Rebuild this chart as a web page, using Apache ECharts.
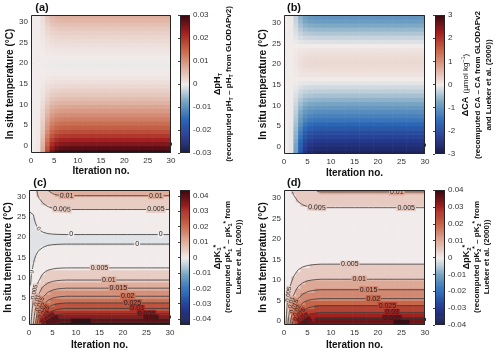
<!DOCTYPE html>
<html>
<head>
<meta charset="utf-8">
<script src="https://cdn.jsdelivr.net/npm/echarts@6/dist/echarts.min.js"></script>
<style>
  html, body { margin: 0; padding: 0; background: #fff; }
  #chart { width: 500px; height: 352px; }
</style>
</head>
<body>
<div id="chart"></div>
<script>
// temperature rows (row centres, °C) and iteration numbers
const tempRows = [-1.5, -0.5, 0.5, 1.5, 2.5, 3.5, 4.5, 5.5, 6.5, 7.5, 8.5, 9.5, 10.5, 11.5, 12.5, 13.5, 14.5,
  15.5, 16.5, 17.5, 18.5, 19.5, 20.5, 21.5, 22.5, 23.5, 24.5, 25.5, 26.5, 27.5, 28.5, 29.5, 30.5, 31.5]
const iterations = [0, 1, 2, 3, 4, 5, 6, 7, 8, 9, 10, 11, 12, 13, 14, 15, 16, 17, 18, 19, 20,
  21, 22, 23, 24, 25, 26, 27, 28, 29, 30]

// (a) delta pH_T once converged, per temperature row
const dpHConv = [0.031, 0.028, 0.025, 0.0225, 0.02, 0.0178, 0.0158, 0.014, 0.0123, 0.0107, 0.0092, 0.0078,
  0.0064, 0.0052, 0.0041, 0.0031, 0.0022, 0.0014, 0.0008, 0.0003, -0.0001, -0.0003, -0.0002, 0.0001,
  0.0005, 0.0009, 0.0014, 0.0019, 0.0025, 0.0032, 0.004, 0.005, 0.006, 0.0068]
// share of the converged value reached at each iteration
const dpHRamp = [0, 0, 0.02, 0.25, 0.6, 0.84, 0.94, 0.98, 0.99, 1, 1, 1, 1, 1, 1, 1, 1, 1, 1, 1, 1,
  1, 1, 1, 1, 1, 1, 1, 1, 1, 1]

// (b) delta CA (umol/kg)
const dCAConv = [-2.8, -2.6, -2.45, -2.3, -2.1, -1.95, -1.75, -1.55, -1.35, -1.2, -1.05, -0.9, -0.75, -0.6,
  -0.45, -0.32, -0.2, -0.08, 0.02, 0.1, 0.15, 0.2, 0.22, 0.2, 0.15, 0.1, 0.0, -0.12, -0.25, -0.4,
  -0.55, -0.7, -0.85, -0.95]
const dCARamp = [0, 0, 0.03, 0.3, 0.65, 0.86, 0.95, 0.98, 0.99, 1, 1, 1, 1, 1, 1, 1, 1, 1, 1, 1, 1,
  1, 1, 1, 1, 1, 1, 1, 1, 1, 1]

// (c) delta pK1*: value at iteration 0, converged value, approach
const dpK1Start = [0.0005, 0.0005, 0.0005, 0.0005, 0.0005, 0.0005, 0.0005, 0.0005, 0.0005, 0.0002,
  -0.001, -0.001, -0.001, -0.001, -0.001, -0.001, -0.001, -0.001, -0.001, -0.001, -0.001, -0.001,
  -0.001, -0.001, -0.001, -0.001, -0.001, -0.001, 0.0002, 0.0005, 0.0005, 0.0005, 0.0005, 0.0005]
const dpK1Conv = [0.048, 0.043, 0.038, 0.0335, 0.0299, 0.026, 0.023, 0.0199, 0.0172, 0.0149, 0.0123,
  0.0099, 0.0083, 0.0066, 0.0049, 0.0038, 0.0028, 0.0019, 0.0011, 0.0004, -0.0001, -0.0004, -0.0001,
  0.0006, 0.0013, 0.0021, 0.003, 0.0038, 0.0047, 0.0057, 0.007, 0.0088, 0.0105, 0.0115]
const dpK1Ramp = [0, 0.22, 0.5, 0.72, 0.86, 0.93, 0.97, 0.99, 1, 1, 1, 1, 1, 1, 1, 1, 1, 1, 1, 1, 1,
  1, 1, 1, 1, 1, 1, 1, 1, 1, 1]

// (d) delta pK2*
const dpK2Conv = [0.044, 0.0393, 0.0354, 0.0318, 0.0286, 0.0256, 0.0227, 0.0198, 0.0173, 0.0152, 0.0131,
  0.0111, 0.0094, 0.0079, 0.0066, 0.0053, 0.0044, 0.0037, 0.0031, 0.0027, 0.0024, 0.0023, 0.0023,
  0.0025, 0.0028, 0.0032, 0.0036, 0.0041, 0.0046, 0.0049, 0.006, 0.0072, 0.0086, 0.0101]
const dpK2Ramp = [0, 0.3, 0.55, 0.75, 0.87, 0.94, 0.97, 0.99, 1, 1, 1, 1, 1, 1, 1, 1, 1, 1, 1, 1, 1,
  1, 1, 1, 1, 1, 1, 1, 1, 1, 1]

// ticks
const tempTicks = [0, 5, 10, 15, 20, 25, 30]
const cbTicksPH = [-0.03, -0.02, -0.01, 0, 0.01, 0.02, 0.03]
const cbTicksCA = [-3, -2, -1, 0, 1, 2, 3]
const cbTicksPK = [-0.04, -0.03, -0.02, -0.01, 0, 0.01, 0.02, 0.03, 0.04]

// contour levels and where their labels sit (level, iteration, temperature)
const levelsC = [0, 0.005, 0.01, 0.015, 0.02, 0.025, 0.03, 0.035, 0.04, 0.045]
const levelsD = [0.005, 0.01, 0.015, 0.02, 0.025, 0.03, 0.035, 0.04]
const labelHintsC = [[0.01, 8.4, 30.3], [0.01, 27, 30.3], [0.005, 7.3, 26.9], [0.005, 27, 26.9],
  [0, 9.2, 20.6], [0, 28, 20.6], [0, 23.5, 18.3], [0, 0.6, 20.7], [0, 1.1, 11.5],
  [0.005, 15.2, 12.5], [0.01, 17, 9.5], [0.015, 19, 7.4], [0.02, 21, 5.6], [0.025, 22.5, 3.9],
  [0.03, 23, 2.5], [0.035, 25, 1.2], [0.04, 26, 0.1], [0.045, 11, -0.9],
  [0.005, 1.3, 6], [0.01, 1.8, 4.5], [0.015, 2.2, 3.5], [0.02, 2.7, 2.5], [0.025, 3.2, 1.6],
  [0.03, 3.7, 0.8], [0.035, 4.2, 0], [0.04, 4.9, -0.6]]
const labelHintsD = [[0.01, 23.8, 31.4], [0.005, 7.3, 27.6], [0.005, 26.3, 27.6], [0.005, 14, 13.7],
  [0.01, 15.9, 10.1], [0.015, 18.4, 7.6], [0.02, 19.5, 5.4], [0.025, 21.7, 3.7], [0.03, 22.7, 2.1],
  [0.035, 23.4, 0.6], [0.04, 24.8, -0.7],
  [0.005, 0.9, 6.4], [0.01, 1.4, 5], [0.015, 1.9, 4], [0.02, 2.4, 3], [0.025, 3, 2], [0.03, 3.6, 1],
  [0.035, 4.5, 0]]

const FONT = 'Liberation Sans'

// diverging colour map (dark blue - white - dark red)
const cmapStops = [[0, [24, 28, 67]], [0.125, [38, 57, 143]], [0.25, [43, 105, 184]], [0.375, [118, 164, 194]],
  [0.5, [241, 236, 235]], [0.625, [221, 168, 150]], [0.75, [199, 102, 73]], [0.875, [163, 32, 31]],
  [1, [60, 9, 18]]]
function cmap (v, lo, hi) {
  let t = (v - lo) / (hi - lo)
  t = Math.max(0, Math.min(1, t))
  for (let i = 1; i < cmapStops.length; i++) {
    if (t <= cmapStops[i][0]) {
      const [t0, c0] = cmapStops[i - 1]
      const [t1, c1] = cmapStops[i]
      const f = (t - t0) / (t1 - t0)
      return 'rgb(' + c0.map((c, j) => Math.round(c + (c1[j] - c) * f)).join(',') + ')'
    }
  }
  return 'rgb(60,9,18)'
}

// marching squares -> polylines in data coordinates
function contour (grid, xs, ys, level) {
  const pts = {}
  const adj = {}
  const link = (a, b) => {
    (adj[a] = adj[a] || []).push(b);
    (adj[b] = adj[b] || []).push(a)
  }
  const edge = (id, xa, ya, va, xb, yb, vb) => {
    if (!pts[id]) {
      const t = (level - va) / (vb - va)
      pts[id] = [xa + (xb - xa) * t, ya + (yb - ya) * t]
    }
    return id
  }
  for (let r = 0; r < ys.length - 1; r++) {
    for (let c = 0; c < xs.length - 1; c++) {
      const v0 = grid[r][c], v1 = grid[r][c + 1], v2 = grid[r + 1][c + 1], v3 = grid[r + 1][c]
      const code = (v0 >= level ? 1 : 0) | (v1 >= level ? 2 : 0) | (v2 >= level ? 4 : 0) | (v3 >= level ? 8 : 0)
      if (code === 0 || code === 15) continue
      const x0 = xs[c], x1 = xs[c + 1], y0 = ys[r], y1 = ys[r + 1]
      const E0 = () => edge('h' + r + '_' + c, x0, y0, v0, x1, y0, v1)
      const E1 = () => edge('v' + r + '_' + (c + 1), x1, y0, v1, x1, y1, v2)
      const E2 = () => edge('h' + (r + 1) + '_' + c, x0, y1, v3, x1, y1, v2)
      const E3 = () => edge('v' + r + '_' + c, x0, y0, v0, x0, y1, v3)
      if (code === 5 || code === 10) {
        const centre = (v0 + v1 + v2 + v3) / 4 >= level
        if ((code === 5) === centre) { link(E0(), E1()); link(E2(), E3()) } else { link(E0(), E3()); link(E1(), E2()) }
        continue
      }
      const b = [code & 1, (code >> 1) & 1, (code >> 2) & 1, (code >> 3) & 1]
      const cross = []
      if (b[0] !== b[1]) cross.push(E0())
      if (b[1] !== b[2]) cross.push(E1())
      if (b[2] !== b[3]) cross.push(E2())
      if (b[3] !== b[0]) cross.push(E3())
      link(cross[0], cross[1])
    }
  }
  const used = new Set()
  const key = (a, b) => a < b ? a + '|' + b : b + '|' + a
  const walk = s => {
    const line = [pts[s]]
    let cur = s
    for (;;) {
      const nx = adj[cur].find(n => !used.has(key(cur, n)))
      if (nx === undefined) break
      used.add(key(cur, nx))
      line.push(pts[nx])
      cur = nx
    }
    return line
  }
  const lines = []
  Object.keys(adj).forEach(id => {
    if (adj[id].length === 1 && !used.has(key(id, adj[id][0]))) lines.push(walk(id))
  })
  Object.keys(adj).forEach(id => {
    if (adj[id].some(n => !used.has(key(id, n)))) lines.push(walk(id))
  })
  return lines
}

const panels = [
  {
    letter: '(a)', letterPos: [42, 8], conv: dpHConv, ramp: dpHRamp, start: null, mode: 'pcolor',
    range: [-0.03, 0.03], cbTicks: cbTicksPH, yRange: [-1.8, 31.7],
    grid: { left: 31, top: 15, width: 140, height: 138 }, cb: { left: 180, top: 15, width: 10, height: 138 },
    yNameGap: 10, xNameGap: 13,
    title: { x: 223, y: 84, lh: 11.5, text: '{b|ΔpH}{bs|T}\n{r|(recomputed pH}{rs|T}{r| – pH}{rs|T}{r| from GLODAPv2)}' }
  },
  {
    letter: '(b)', letterPos: [294, 8], conv: dCAConv, ramp: dCARamp, start: null, mode: 'pcolor',
    range: [-3, 3], cbTicks: cbTicksCA, yRange: [-1.8, 31.9],
    grid: { left: 284, top: 15, width: 141, height: 139 }, cb: { left: 435, top: 15, width: 10, height: 139 },
    yNameGap: 14, xNameGap: 14,
    title: { x: 477, y: 85, lh: 11, text: '{b|ΔCA} {u|(µmol kg}{sp|−1}{u|)}\n{r|(recomputed CA – CA from GLODAPv2}\n{r|and Lueker et al. (2000))}' }
  },
  {
    letter: '(c)', letterPos: [40, 183], conv: dpK1Conv, ramp: dpK1Ramp, start: dpK1Start, mode: 'contour',
    levels: levelsC, hints: labelHintsC,
    range: [-0.0438, 0.0438], cbTicks: cbTicksPK, yRange: [-1.6, 31.6],
    grid: { left: 29, top: 190, width: 141, height: 135 }, cb: { left: 180, top: 190, width: 10, height: 135 },
    yNameGap: 15, xNameGap: 15,
    title: { x: 228, y: 257, lh: 10.5, text: '{b|ΔpK}{bs|1}{bp|*}\n{r|(recomputed pK}{rs|1}{rp|*}{r| – pK}{rs|1}{rp|*}{r| from}\n{r|Lueker et al. (2000))}' }
  },
  {
    letter: '(d)', letterPos: [294, 183], conv: dpK2Conv, ramp: dpK2Ramp, start: null, mode: 'contour',
    levels: levelsD, hints: labelHintsD,
    range: [-0.04, 0.04], cbTicks: cbTicksPK, yRange: [-1.0, 31.9],
    grid: { left: 284, top: 190, width: 141, height: 135 }, cb: { left: 435, top: 190, width: 10, height: 135 },
    yNameGap: 15, xNameGap: 15,
    title: { x: 477, y: 257, lh: 10, text: '{b|ΔpK}{bs|2}{bp|*}\n{r|(recomputed pK}{rs|2}{rp|*}{r| – pK}{rs|2}{rp|*}{r| from}\n{r|Lueker et al. (2000))}' }
  }
]

const BAND = 0.005
const fmtLevel = v => String(+v.toFixed(4))
// filled-contour band colour: positive bands take their lower level, negative bands sit near zero
const bandValue = v => v >= 0 ? Math.floor(v / BAND) * BAND : (Math.floor(v / BAND) + 0.7) * BAND

const grids = []
const xAxes = []
const yAxes = []
const series = []
const graphics = []

const frameSeries = (xi) => ({
  type: 'custom', xAxisIndex: xi, yAxisIndex: xi, z: 10, silent: true, clip: false,
  data: [[0, 0]],
  renderItem: (params) => {
    const cs = params.coordSys
    return {
      type: 'rect',
      shape: { x: Math.round(cs.x) + 0.5, y: Math.round(cs.y) + 0.5, width: Math.round(cs.width) - 1, height: Math.round(cs.height) - 1 },
      style: { fill: 'none', stroke: '#262626', lineWidth: 1 }
    }
  }
})

const rectItem = (colorFn) => (params, api) => {
  const a = api.coord([api.value(0), api.value(3)])
  const b = api.coord([api.value(1), api.value(2)])
  return {
    type: 'rect',
    shape: { x: a[0], y: a[1], width: b[0] - a[0] + 0.6, height: b[1] - a[1] + 0.6 },
    style: { fill: colorFn(api.value(4)) }
  }
}

panels.forEach((p, idx) => {
  const gi = idx * 2
  const ci = gi + 1
  const [lo, hi] = p.range
  grids.push(p.grid, p.cb)

  xAxes.push({
    gridIndex: gi, type: 'value', min: 0, max: 30, interval: 5,
    axisLine: { show: false }, splitLine: { show: false },
    axisTick: { inside: true, length: 3, lineStyle: { color: '#333' } },
    axisLabel: { fontSize: 8, color: '#333', margin: 4, fontFamily: FONT },
    name: 'Iteration no.', nameLocation: 'middle', nameGap: p.xNameGap,
    nameTextStyle: { fontSize: 10, fontWeight: 'bold', color: '#111', fontFamily: FONT }
  })
  yAxes.push({
    gridIndex: gi, type: 'value', min: p.yRange[0], max: p.yRange[1],
    axisLine: { show: false }, splitLine: { show: false },
    axisTick: { inside: true, length: 3, customValues: tempTicks, lineStyle: { color: '#333' } },
    axisLabel: { fontSize: 8, color: '#333', margin: 3, customValues: tempTicks, fontFamily: FONT },
    name: 'In situ temperature (°C)', nameLocation: 'middle', nameGap: p.yNameGap,
    nameTextStyle: { fontSize: 10, fontWeight: 'bold', color: '#111', fontFamily: FONT }
  })
  xAxes.push({ gridIndex: ci, type: 'value', min: 0, max: 1, show: false })
  yAxes.push({
    gridIndex: ci, type: 'value', min: lo, max: hi, position: 'right',
    axisLine: { show: false }, splitLine: { show: false },
    axisTick: { inside: true, length: 2, customValues: p.cbTicks, lineStyle: { color: '#444' } },
    axisLabel: {
      fontSize: 8, color: '#333', margin: 3, customValues: p.cbTicks, fontFamily: FONT,
      formatter: v => String(+Number(v).toFixed(3))
    }
  })

  // field: iteration-0 value moved towards the converged value
  const field = tempRows.map((T, r) => iterations.map(k => {
    const s = p.start ? p.start[r] : 0
    return s + (p.conv[r] - s) * p.ramp[k]
  }))

  const cells = []
  tempRows.forEach((T, r) => {
    iterations.forEach(k => {
      if (p.mode === 'pcolor') {
        if (k > 0) cells.push([k - 1, k, T - 0.5, T + 0.5, field[r][k]])
      } else {
        cells.push([k - 0.5, k + 0.5, T - 0.5, T + 0.5, field[r][k]])
      }
    })
  })
  const fillColor = p.mode === 'pcolor'
    ? v => cmap(v, lo, hi)
    : v => cmap(bandValue(v), lo, hi)
  series.push({
    type: 'custom', xAxisIndex: gi, yAxisIndex: gi, clip: true, silent: true,
    encode: { x: [0, 1], y: [2, 3] }, data: cells, renderItem: rectItem(fillColor)
  })

  if (p.mode === 'contour') {
    const polys = []
    p.levels.forEach(lev => {
      contour(field, iterations, tempRows, lev).forEach(pts => polys.push({ level: lev, pts }))
    })
    series.push({
      type: 'custom', xAxisIndex: gi, yAxisIndex: gi, clip: true, silent: true, z: 3,
      encode: { x: 0, y: 1 },
      data: polys.map((pl, i) => [pl.pts[0][0], pl.pts[0][1], i]),
      renderItem: (params, api) => ({
        type: 'polyline',
        shape: { points: polys[api.value(2)].pts.map(q => api.coord(q)) },
        style: { stroke: '#3a3a3a', lineWidth: 0.8, fill: 'none' }
      })
    })
    // labels snapped onto the nearest contour vertex
    const sx = p.grid.width / 30
    const sy = p.grid.height / (p.yRange[1] - p.yRange[0])
    const labels = []
    p.hints.forEach(([lev, hx, hy]) => {
      let best = null
      polys.forEach(pl => {
        if (Math.abs(pl.level - lev) > 1e-9) return
        pl.pts.forEach((q, j) => {
          const d = Math.pow((q[0] - hx) * sx, 2) + Math.pow((q[1] - hy) * sy, 2)
          if (!best || d < best.d) best = { d, pl, j }
        })
      })
      if (!best) return
      const pts = best.pl.pts
      const a = pts[Math.max(0, best.j - 1)]
      const b = pts[Math.min(pts.length - 1, best.j + 1)]
      let ang = Math.atan2((b[1] - a[1]) * sy, (b[0] - a[0]) * sx)
      if (ang > Math.PI / 2) ang -= Math.PI
      if (ang < -Math.PI / 2) ang += Math.PI
      const q = pts[best.j]
      labels.push({ x: q[0], y: q[1], ang, text: fmtLevel(lev), bg: cmap(bandValue(lev + 1e-9), lo, hi), small: Math.abs(ang) > 0.35 })
    })
    series.push({
      type: 'custom', xAxisIndex: gi, yAxisIndex: gi, clip: true, silent: true, z: 4,
      encode: { x: 0, y: 1 },
      data: labels.map((l, i) => [l.x, l.y, i]),
      renderItem: (params, api) => {
        const l = labels[api.value(2)]
        const c = api.coord([api.value(0), api.value(1)])
        return {
          type: 'text', x: c[0], y: c[1], rotation: l.ang,
          style: {
            text: l.text, fill: '#222', fontSize: l.small ? 6 : 7, fontFamily: FONT,
            align: 'center', verticalAlign: 'middle', backgroundColor: l.bg, padding: [0, 1]
          }
        }
      }
    })
  }

  // colour bar
  const steps = []
  const N = 140
  for (let i = 0; i < N; i++) {
    const y0 = lo + (hi - lo) * i / N
    const y1 = lo + (hi - lo) * (i + 1) / N
    steps.push([0, 1, y0, y1, (y0 + y1) / 2])
  }
  series.push({
    type: 'custom', xAxisIndex: ci, yAxisIndex: ci, clip: true, silent: true,
    encode: { x: [0, 1], y: [2, 3] }, data: steps, renderItem: rectItem(v => cmap(v, lo, hi))
  })
  series.push(frameSeries(gi))
  series.push(frameSeries(ci))

  graphics.push({
    type: 'text', x: p.letterPos[0], y: p.letterPos[1],
    style: { text: p.letter, fontSize: 11, fontWeight: 'bold', fontFamily: FONT, fill: '#111', align: 'center', verticalAlign: 'middle' }
  })
  const lh = p.title.lh
  graphics.push({
    type: 'text', x: p.title.x, y: p.title.y, rotation: Math.PI / 2,
    style: {
      text: p.title.text, align: 'center', verticalAlign: 'middle', fill: '#111', fontFamily: FONT,
      rich: {
        b: { fontSize: 9, fontWeight: 'bold', fontFamily: FONT, lineHeight: lh },
        bs: { fontSize: 6, fontWeight: 'bold', fontFamily: FONT, verticalAlign: 'bottom', lineHeight: 7 },
        bp: { fontSize: 7, fontWeight: 'bold', fontFamily: FONT, verticalAlign: 'top', lineHeight: 7 },
        r: { fontSize: 8, fontWeight: 'bold', fontFamily: FONT, lineHeight: lh },
        rs: { fontSize: 5.5, fontWeight: 'bold', fontFamily: FONT, verticalAlign: 'bottom', lineHeight: 7 },
        rp: { fontSize: 6.5, fontWeight: 'bold', fontFamily: FONT, verticalAlign: 'top', lineHeight: 7 },
        u: { fontSize: 8, fontFamily: FONT, lineHeight: lh },
        sp: { fontSize: 5.5, fontFamily: FONT, verticalAlign: 'top', lineHeight: 7 }
      }
    }
  })
})

const chart = echarts.init(document.getElementById('chart'), null, { renderer: 'canvas' })
chart.setOption({
  animation: false,
  backgroundColor: '#fff',
  textStyle: { fontFamily: FONT },
  grid: grids,
  xAxis: xAxes,
  yAxis: yAxes,
  series: series,
  graphic: graphics
})
</script>
</body>
</html>
